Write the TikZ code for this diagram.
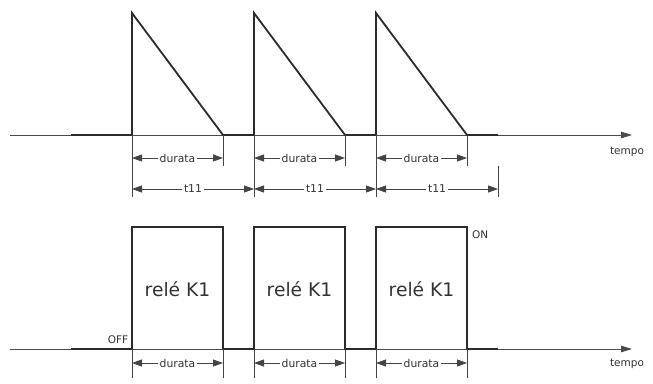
\documentclass[tikz,border=0pt]{standalone}
\usepackage{fontspec}
\setmainfont{DejaVu Sans}
\usetikzlibrary{arrows.meta}
\definecolor{axisgray}{HTML}{4A4A4A}
\definecolor{sigcol}{HTML}{2B2B2B}
\definecolor{dimgray}{HTML}{444444}
\definecolor{txtcol}{HTML}{333333}
\begin{document}
\begin{tikzpicture}[x=1pt,y=-1pt,
  axis/.style={draw=axisgray, line width=0.9pt, -{Triangle[length=11pt,width=6.5pt]}},
  sig/.style={draw=sigcol, line width=1.8pt, line join=miter},
  ext/.style={draw=dimgray, line width=0.8pt},
  dimarr/.style={draw=dimgray, line width=0.8pt, {Triangle[length=10pt,width=7pt]}-{Triangle[length=10pt,width=7pt]}},
  lbl/.style={font=\fontsize{10.8}{12}\selectfont, text=txtcol, fill=white, inner sep=2pt},
  small/.style={font=\fontsize{10.5}{12}\selectfont, text=txtcol, inner sep=0pt},
  big/.style={font=\fontsize{18.7}{22}\selectfont, text=txtcol}]
\useasboundingbox (0,0) rectangle (653,383);

% ---------- top chart ----------
\coordinate (A0) at (10,135);
\coordinate (A1) at (632,135);
\draw[axis] (A0) -- (A1);
\node[small] (tempo1) at (627,152) {tempo};

\coordinate (s0) at (71,135);
\coordinate (r1b) at (132,135); \coordinate (r1t) at (132,13); \coordinate (f1) at (223,135);
\coordinate (r2b) at (254,135); \coordinate (r2t) at (254,13); \coordinate (f2) at (345,135);
\coordinate (r3b) at (376,135); \coordinate (r3t) at (376,13); \coordinate (f3) at (467,135);
\coordinate (s1) at (498,135);
\draw[sig] (s0) -- (r1b) -- (r1t) -- (f1) -- (r2b) -- (r2t) -- (f2) -- (r3b) -- (r3t) -- (f3) -- (s1);

% extension lines
\coordinate (e1) at (132,197); \coordinate (e2) at (223,166);
\coordinate (e3) at (254,197); \coordinate (e4) at (345,166);
\coordinate (e5) at (376,197); \coordinate (e6) at (467,166);
\coordinate (e7a) at (498,166); \coordinate (e7b) at (498,197);
\draw[ext] (r1b) -- (e1);
\draw[ext] (f1) -- (e2);
\draw[ext] (r2b) -- (e3);
\draw[ext] (f2) -- (e4);
\draw[ext] (r3b) -- (e5);
\draw[ext] (f3) -- (e6);
\draw[ext] (e7a) -- (e7b);

% durata dimensions (top)
\coordinate (d1a) at (132,158); \coordinate (d1b) at (223,158);
\coordinate (d2a) at (254,158); \coordinate (d2b) at (345,158);
\coordinate (d3a) at (376,158); \coordinate (d3b) at (467,158);
\draw[dimarr] (d1a) -- node[lbl] (ld1) {durata} (d1b);
\draw[dimarr] (d2a) -- node[lbl] (ld2) {durata} (d2b);
\draw[dimarr] (d3a) -- node[lbl] (ld3) {durata} (d3b);

% t11 dimensions
\coordinate (p1) at (132,189); \coordinate (p2) at (254,189);
\coordinate (p3) at (376,189); \coordinate (p4) at (498,189);
\draw[dimarr] (p1) -- node[lbl] (lt1) {t11} (p2);
\draw[dimarr] (p2) -- node[lbl] (lt2) {t11} (p3);
\draw[dimarr] (p3) -- node[lbl] (lt3) {t11} (p4);

% ---------- bottom chart ----------
\coordinate (B0) at (10,349);
\coordinate (B1) at (632,349);
\draw[axis] (B0) -- (B1);
\node[small] (tempo2) at (627,364) {tempo};

\coordinate (q0) at (71,349);
\coordinate (u1b) at (132,349); \coordinate (u1t) at (132,227); \coordinate (v1t) at (223,227); \coordinate (v1b) at (223,349);
\coordinate (u2b) at (254,349); \coordinate (u2t) at (254,227); \coordinate (v2t) at (345,227); \coordinate (v2b) at (345,349);
\coordinate (u3b) at (376,349); \coordinate (u3t) at (376,227); \coordinate (v3t) at (467,227); \coordinate (v3b) at (467,349);
\coordinate (q1) at (498,349);
\draw[sig] (q0) -- (u1b) -- (u1t) -- (v1t) -- (v1b) -- (u2b) -- (u2t) -- (v2t) -- (v2b) -- (u3b) -- (u3t) -- (v3t) -- (v3b) -- (q1);

\node[big] (k1) at (177.5,289) {relé K1};
\node[big] (k2) at (299.5,289) {relé K1};
\node[big] (k3) at (421.5,289) {relé K1};
\node[small] (off) at (118,340) {OFF};
\node[small, anchor=west] (on) at (472,235) {ON};

% extension lines (bottom)
\foreach \x/\n in {132/g1,223/g2,254/g3,345/g4,376/g5,467/g6}{
  \coordinate (\n a) at (\x,349);
  \coordinate (\n b) at (\x,378);
  \draw[ext] (\n a) -- (\n b);
}

% durata dimensions (bottom)
\coordinate (h1a) at (132,363); \coordinate (h1b) at (223,363);
\coordinate (h2a) at (254,363); \coordinate (h2b) at (345,363);
\coordinate (h3a) at (376,363); \coordinate (h3b) at (467,363);
\draw[dimarr] (h1a) -- node[lbl] (lb1) {durata} (h1b);
\draw[dimarr] (h2a) -- node[lbl] (lb2) {durata} (h2b);
\draw[dimarr] (h3a) -- node[lbl] (lb3) {durata} (h3b);
\end{tikzpicture}
\end{document}
